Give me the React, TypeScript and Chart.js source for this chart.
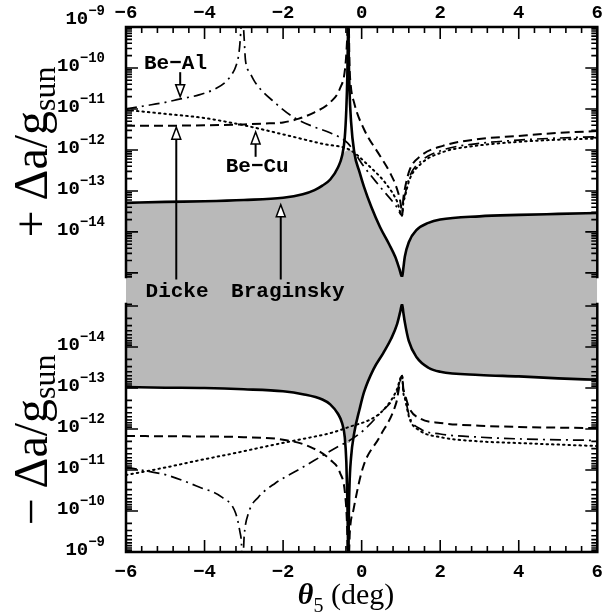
import React, { useEffect, useRef } from 'react';
import { Chart, registerables } from 'chart.js';

Chart.register(...registerables);

// ---------- axis ranges ----------
const thetaMin = -6;
const thetaMax = 6;
const upperAxisMin = 7.94e-16; // bottom edge of the "+" panel
const upperAxisMax = 1e-9;
const lowerAxisMin = 8.91e-16; // top edge of the "-" panel
const lowerAxisMax = 1e-9;
const xTickLabels = [-6, -4, -2, 0, 2, 4, 6];
const upperTickExponents = [-9, -10, -11, -12, -13, -14];
const lowerTickExponents = [-14, -13, -12, -11, -10, -9];

// ---------- "+" panel (+Δa/g_sun) ----------
const braginskyPlusTheta = [-6, -5, -4, -3, -2, -1.5, -1.2, -1, -0.8, -0.6, -0.5, -0.43, -0.39, -0.365, -0.35, -0.345,
  -0.335, -0.33, -0.31, -0.27, -0.19, -0.05, 0.06, 0.25, 0.47, 0.7, 0.86, 0.96, 1.03,
  1.06, 1.1, 1.2, 1.4, 1.7, 2, 3, 4, 5, 6];
const braginskyPlusValue = [5.1e-14, 5.4e-14, 5.6e-14, 6.0e-14, 6.8e-14, 8.3e-14, 1.05e-13, 1.35e-13, 1.9e-13, 3.8e-13, 7.1e-13, 2.0e-12, 1e-11, 6.3e-11, 5.0e-10, 1.6e-9,
  1.6e-9, 3.2e-10, 3.2e-11, 5.0e-12, 8.9e-13, 2.8e-13, 1.26e-13, 4.0e-14, 1.3e-14, 5.0e-15, 2.4e-15, 1.26e-15, 7.9e-16,
  1.26e-15, 2.5e-15, 5.6e-15, 1.12e-14, 1.66e-14, 2.0e-14, 2.4e-14, 2.6e-14, 2.75e-14, 2.9e-14];

const dickePlusTheta = [-6, -5, -4, -3, -2.5, -2, -1.6, -1.2, -0.8, -0.55, -0.42, -0.37, -0.35,
  -0.33, -0.31, -0.28, -0.19, 0.06, 0.47, 0.72, 0.9, 1.0, 1.03,
  1.06, 1.1, 1.22, 1.5, 2.07, 2.9, 4, 5, 6];
const dickePlusValue = [3.9e-12, 3.9e-12, 4.0e-12, 4.2e-12, 4.4e-12, 4.7e-12, 5.8e-12, 8.3e-12, 1.45e-11, 3.2e-11, 1e-10, 5e-10, 1.6e-9,
  1.6e-9, 1.26e-10, 4.0e-11, 1.4e-11, 3.2e-12, 7.1e-13, 2.8e-13, 1.12e-13, 4.5e-14, 2.5e-14,
  6.3e-14, 1.12e-13, 3.2e-13, 7.1e-13, 1.26e-12, 1.8e-12, 2.2e-12, 2.6e-12, 2.9e-12];

const beAlPlusTheta = [-6, -5.5, -5, -4.64, -4.14, -3.7, -3.46, -3.3, -3.21, -3.12, -3.08, -3.06,
  -3.03, -2.99, -2.96, -2.85, -2.7, -2.2, -1.7, -1.2, -0.79, -0.36, 0.06, 0.47, 0.89, 1.03,
  1.06, 1.1, 1.22, 1.5, 2.07, 2.9, 4, 5, 6];
const beAlPlusValue = [1e-11, 1.2e-11, 1.45e-11, 1.74e-11, 2.2e-11, 3.2e-11, 4.6e-11, 7.1e-11, 1.05e-10, 2.5e-10, 7.1e-10, 1.6e-9,
  1.6e-9, 5e-10, 1.6e-10, 7.9e-11, 4.3e-11, 1.4e-11, 6.0e-12, 3.6e-12, 2.6e-12, 1.48e-12, 3.9e-13, 1.26e-13, 4.1e-14, 2.5e-14,
  5.6e-14, 7.9e-14, 2.2e-13, 5.2e-13, 1e-12, 1.41e-12, 1.74e-12, 1.95e-12, 2.1e-12];

const beCuPlusTheta = [-6, -5, -4, -3, -2, -1, -0.3, 0.14, 0.64, 0.9, 1.03,
  1.06, 1.1, 1.22, 1.5, 2.07, 2.9, 4, 5, 6];
const beCuPlusValue = [9.5e-12, 7.6e-12, 6.0e-12, 4.0e-12, 2.4e-12, 1.41e-12, 1e-12, 4.5e-13, 1.41e-13, 5.6e-14, 2.5e-14,
  5.0e-14, 7.1e-14, 1.9e-13, 4.5e-13, 8.9e-13, 1.26e-12, 1.58e-12, 1.78e-12, 1.9e-12];

// ---------- "-" panel (-Δa/g_sun) ----------
const braginskyMinusTheta = [-6, -5, -4, -3, -2, -1.5, -1, -0.8, -0.6, -0.5, -0.43, -0.39, -0.365, -0.35, -0.345,
  -0.335, -0.33, -0.31, -0.27, -0.19, -0.05, 0.06, 0.3, 0.55, 0.75, 0.9, 0.98, 1.03,
  1.06, 1.1, 1.2, 1.4, 1.7, 2, 3, 4, 5, 6];
const braginskyMinusValue = [9.5e-14, 9.8e-14, 1e-13, 1.07e-13, 1.2e-13, 1.41e-13, 1.9e-13, 2.5e-13, 4.3e-13, 7.1e-13, 1.58e-12, 6.3e-12, 5e-11, 4e-10, 1.6e-9,
  1.6e-9, 2.5e-10, 2.5e-11, 5e-12, 1.26e-12, 3.2e-13, 1.26e-13, 3.5e-14, 1.41e-14, 6.3e-15, 2.8e-15, 1.41e-15, 8.9e-16,
  1.41e-15, 2.5e-15, 7.1e-15, 1.78e-14, 3.2e-14, 4.0e-14, 4.8e-14, 5.2e-14, 5.8e-14, 6.3e-14];

const dickeMinusTheta = [-6, -4.5, -3, -2, -1.3, -0.8, -0.55, -0.42, -0.37, -0.35,
  -0.33, -0.3, -0.21, 0.04, 0.46, 0.88, 1.03,
  1.06, 1.1, 1.22, 1.5, 2, 3, 4, 6];
const dickeMinusValue = [1.48e-12, 1.51e-12, 1.58e-12, 1.82e-12, 2.75e-12, 5.6e-12, 1.17e-11, 4e-11, 2.5e-10, 1.6e-9,
  1.6e-9, 3.2e-10, 9.5e-11, 8.3e-12, 1.55e-12, 2.3e-13, 5.0e-14,
  1e-13, 1.41e-13, 3.2e-13, 5.6e-13, 7.1e-13, 8.3e-13, 8.9e-13, 9.5e-13];

const beAlMinusTheta = [-6, -5.5, -4.97, -4.14, -3.56, -3.21, -3.1, -3.06, -3.045,
  -3.025, -2.99, -2.88, -2.63, -2.2, -1.62, -1.2, -0.62, -0.29, 0.06, 0.47, 0.89, 1.03,
  1.06, 1.1, 1.22, 1.5, 2, 3, 4, 6];
const beAlMinusValue = [8.5e-12, 1.05e-11, 1.32e-11, 2.6e-11, 4.6e-11, 1.12e-10, 3.2e-10, 6.3e-10, 1.6e-9,
  1.6e-9, 4e-10, 1.12e-10, 4.6e-11, 2.1e-11, 1e-11, 5.8e-12, 2.75e-12, 1.86e-12, 1.05e-12, 4.1e-13, 1.32e-13, 5.0e-14,
  1.12e-13, 1.58e-13, 5.0e-13, 1e-12, 1.32e-12, 1.58e-12, 1.74e-12, 1.9e-12];

const beCuMinusTheta = [-6, -5, -4.14, -3.3, -2.47, -1.6, -0.8, -0.29, 0.2, 0.47, 0.75, 0.89, 1.03,
  1.06, 1.1, 1.22, 1.5, 2, 3, 4, 6];
const beCuMinusValue = [1.32e-11, 8.7e-12, 5.8e-12, 4e-12, 2.7e-12, 1.82e-12, 1.26e-12, 8.7e-13, 6.0e-13, 4.1e-13, 2.0e-13, 1.12e-13, 5.0e-14,
  1.26e-13, 1.78e-13, 5.6e-13, 1.12e-12, 1.58e-12, 2.0e-12, 2.2e-12, 2.6e-12];

// tip of the shaded (allowed) region at the Braginsky pole
const shadeTipTheta = -0.34;
const upperShadeCap = 1.0e-12;
const lowerShadeCap = 2.2e-12;
// the shaded band between the two panels (Δa ≈ 0)
const gapTheta = [-6, 6];
const gapLevel = [1.15, 1.15];

const SHADE = '#b9b9b9';
const MONO = '"Liberation Mono", "DejaVu Sans Mono", monospace';
const SERIF = '"Liberation Serif", "DejaVu Serif", serif';

const pts = (t: number[], v: number[]) => t.map((x, i) => ({ x, y: v[i] }));
const fmt = (v: number) => (v < 0 ? '\u2212' + Math.abs(v) : String(v));
const shadePts = (t: number[], v: number[], cap: number) => {
  const below = pts(t, v).filter((p) => p.y <= cap);
  below.push({ x: shadeTipTheta, y: cap });
  return below.sort((a, b) => a.x - b.x);
};

function arrow(ctx: CanvasRenderingContext2D, x: number, yTail: number, yTip: number) {
  const dir = yTip < yTail ? 1 : -1; // 1: pointing up
  const headH = 12;
  const headW = 4.5;
  ctx.beginPath();
  ctx.moveTo(x, yTail);
  ctx.lineTo(x, yTip + dir * headH);
  ctx.lineWidth = 2;
  ctx.stroke();
  ctx.beginPath();
  ctx.moveTo(x, yTip);
  ctx.lineTo(x - headW, yTip + dir * headH);
  ctx.lineTo(x + headW, yTip + dir * headH);
  ctx.closePath();
  ctx.fillStyle = '#fff';
  ctx.fill();
  ctx.lineWidth = 1.5;
  ctx.stroke();
}

const decorPlugin = {
  id: 'decor',
  afterDatasetsDraw(chart: any) {
    const { ctx, chartArea } = chart;
    const { left, right } = chartArea;
    const xs = chart.scales.x;
    const yT = chart.scales.yTop;
    const yB = chart.scales.yBot;
    ctx.save();
    ctx.strokeStyle = '#000';
    ctx.lineWidth = 2.5;
    ctx.lineCap = 'square';
    ctx.beginPath();
    ctx.moveTo(left, yT.bottom);
    ctx.lineTo(left, yT.top);
    ctx.lineTo(right, yT.top);
    ctx.lineTo(right, yT.bottom);
    ctx.moveTo(left, yB.top);
    ctx.lineTo(left, yB.bottom);
    ctx.lineTo(right, yB.bottom);
    ctx.lineTo(right, yB.top);
    ctx.stroke();
    ctx.lineCap = 'butt';
    ctx.lineWidth = 1.6;
    ctx.beginPath();
    for (let i = 0; i <= 30; i++) {
      const v = thetaMin + i * 0.4;
      const px = xs.getPixelForValue(v);
      const len = i % 5 === 0 ? 12 : 6;
      ctx.moveTo(px, yT.top);
      ctx.lineTo(px, yT.top + len);
      ctx.moveTo(px, yB.bottom);
      ctx.lineTo(px, yB.bottom - len);
    }
    for (const s of [yT, yB]) {
      for (let e = -16; e <= -9; e++) {
        for (let m = 1; m <= 9; m++) {
          const v = m * Math.pow(10, e);
          if (v < s.min * 0.999 || v > s.max * 1.001) continue;
          const py = s.getPixelForValue(v);
          const len = m === 1 ? 12 : 6;
          ctx.moveTo(left, py);
          ctx.lineTo(left + len, py);
          ctx.moveTo(right, py);
          ctx.lineTo(right - len, py);
        }
      }
    }
    ctx.stroke();
    ctx.restore();
  },
  afterDraw(chart: any) {
    const { ctx } = chart;
    const xs = chart.scales.x;
    const yT = chart.scales.yTop;
    const yB = chart.scales.yBot;
    const yG = chart.scales.yGap;
    ctx.save();
    ctx.fillStyle = '#000';
    ctx.strokeStyle = '#000';
    const drawPow = (exp: number, cy: number) => {
      const base = '10';
      const sup = '\u2212' + Math.abs(exp);
      ctx.font = `bold 19px ${MONO}`;
      const wb = ctx.measureText(base).width;
      ctx.font = `bold 14px ${MONO}`;
      const ws = ctx.measureText(sup).width;
      const rightX = 105;
      const x0 = rightX - wb - ws;
      ctx.textAlign = 'left';
      ctx.textBaseline = 'alphabetic';
      ctx.font = `bold 19px ${MONO}`;
      ctx.fillText(base, x0, cy + 6);
      ctx.font = `bold 14px ${MONO}`;
      ctx.fillText(sup, x0 + wb, cy - 3);
    };
    for (const e of upperTickExponents) {
      const py = yT.getPixelForValue(Math.pow(10, e));
      drawPow(e, e === -9 ? py - 9 : py - 3);
    }
    for (const e of lowerTickExponents) {
      const py = yB.getPixelForValue(Math.pow(10, e));
      drawPow(e, py - 3);
    }
    const drawYTitle = (sign: string, cx: number, cy: number) => {
      ctx.save();
      ctx.translate(cx, cy);
      ctx.rotate(-Math.PI / 2);
      ctx.textBaseline = 'alphabetic';
      ctx.textAlign = 'left';
      const main = '\u0394a/g';
      ctx.font = `48px ${SERIF}`;
      const w0 = ctx.measureText(sign).width + 10;
      const w1 = ctx.measureText(main).width;
      ctx.font = `32px ${SERIF}`;
      const w2 = ctx.measureText('sun').width;
      const start = -(w0 + w1 + w2) / 2;
      ctx.font = `48px ${SERIF}`;
      ctx.fillText(sign, start, 10);
      ctx.fillText(main, start + w0, 10);
      ctx.font = `32px ${SERIF}`;
      ctx.fillText('sun', start + w0 + w1, 18);
      ctx.restore();
    };
    drawYTitle('+', 37, 152);
    drawYTitle('\u2212', 37, 440);
    ctx.textBaseline = 'alphabetic';
    ctx.textAlign = 'left';
    ctx.font = `italic bold 30px ${SERIF}`;
    const wTh = ctx.measureText('\u03b8').width;
    ctx.font = `20px ${SERIF}`;
    const w5 = ctx.measureText('5').width;
    ctx.font = `30px ${SERIF}`;
    const wDeg = ctx.measureText(' (deg)').width;
    let tx = 346 - (wTh + w5 + wDeg) / 2;
    ctx.font = `italic bold 30px ${SERIF}`;
    ctx.fillText('\u03b8', tx, 604);
    tx += wTh;
    ctx.font = `20px ${SERIF}`;
    ctx.fillText('5', tx, 612);
    tx += w5;
    ctx.font = `30px ${SERIF}`;
    ctx.fillText(' (deg)', tx, 604);

    ctx.font = `bold 21px ${MONO}`;
    ctx.textAlign = 'center';
    ctx.textBaseline = 'middle';
    const gapMid = yG.getPixelForValue(0.5);
    ctx.fillStyle = '#000';
    ctx.fillText('Be\u2212Al', xs.getPixelForValue(-4.74), yT.getPixelForValue(1.3e-10));
    ctx.fillText('Be\u2212Cu', xs.getPixelForValue(-2.66), yT.getPixelForValue(3.9e-13));
    ctx.fillText('Dicke', xs.getPixelForValue(-4.7), gapMid + 1);
    ctx.fillText('Braginsky', xs.getPixelForValue(-1.88), gapMid + 1);
    ctx.strokeStyle = '#000';
    arrow(ctx, xs.getPixelForValue(-4.62), yT.getPixelForValue(7.9e-11), yT.getPixelForValue(2.0e-11));
    arrow(ctx, xs.getPixelForValue(-2.7), yT.getPixelForValue(6.8e-13), yT.getPixelForValue(2.75e-12));
    arrow(ctx, xs.getPixelForValue(-4.72), gapMid - 11, yT.getPixelForValue(3.6e-12));
    arrow(ctx, xs.getPixelForValue(-2.06), gapMid - 11, yT.getPixelForValue(4.6e-14));
    ctx.restore();
  },
};

export default function App() {
  const ref = useRef<HTMLCanvasElement | null>(null);
  useEffect(() => {
    const canvas = ref.current;
    if (!canvas) return;
    const line = (data: any, yAxisID: string, style: string) => {
      const base: any = {
        data,
        yAxisID,
        xAxisID: 'x',
        order: 1,
        borderColor: '#000',
        backgroundColor: 'transparent',
        fill: false,
        pointRadius: 0,
        cubicInterpolationMode: 'monotone',
      };
      if (style === 'solid') { base.borderWidth = 2.6; }
      if (style === 'dashed') { base.borderWidth = 2; base.borderDash = [9, 5]; }
      if (style === 'dashdot') { base.borderWidth = 1.7; base.borderDash = [11, 5, 2, 5]; }
      if (style === 'dotted') { base.borderWidth = 2; base.borderDash = [1.5, 4]; base.borderCapStyle = 'round'; }
      return base;
    };
    const shade = (data: any, yAxisID: string, fill: any) => ({
      data, yAxisID, xAxisID: 'x', order: 5, borderWidth: 0, pointRadius: 0,
      backgroundColor: SHADE, borderColor: SHADE, fill, cubicInterpolationMode: 'monotone',
    } as any);
    const chart = new Chart(canvas, {
      type: 'line',
      data: {
        datasets: [
          shade(pts(gapTheta, gapLevel), 'yGap', { value: -0.15 }),
          shade(shadePts(braginskyPlusTheta, braginskyPlusValue, upperShadeCap), 'yTop', 'start'),
          shade(shadePts(braginskyMinusTheta, braginskyMinusValue, lowerShadeCap), 'yBot', 'end'),
          line(pts(braginskyPlusTheta, braginskyPlusValue), 'yTop', 'solid'),
          line(pts(dickePlusTheta, dickePlusValue), 'yTop', 'dashed'),
          line(pts(beAlPlusTheta, beAlPlusValue), 'yTop', 'dashdot'),
          line(pts(beCuPlusTheta, beCuPlusValue), 'yTop', 'dotted'),
          line(pts(braginskyMinusTheta, braginskyMinusValue), 'yBot', 'solid'),
          line(pts(dickeMinusTheta, dickeMinusValue), 'yBot', 'dashed'),
          line(pts(beAlMinusTheta, beAlMinusValue), 'yBot', 'dashdot'),
          line(pts(beCuMinusTheta, beCuMinusValue), 'yBot', 'dotted'),
        ],
      },
      options: {
        responsive: false,
        animation: false,
        events: [],
        layout: { padding: { left: 126, right: 8, top: 0, bottom: 0 } },
        plugins: { legend: { display: false }, tooltip: { enabled: false } },
        scales: {
          x: {
            type: 'linear', position: 'bottom', min: thetaMin, max: thetaMax,
            afterFit: (s: any) => { s.height = 64; },
            afterBuildTicks: (s: any) => { s.ticks = xTickLabels.map((v) => ({ value: v })); },
            grid: { display: false, drawTicks: false },
            border: { display: false },
            ticks: { padding: 9, color: '#000', font: { family: MONO, weight: 'bold', size: 19 }, callback: (v: any) => fmt(Number(v)), maxRotation: 0 },
          },
          xTop: {
            type: 'linear', position: 'top', min: thetaMin, max: thetaMax,
            afterFit: (s: any) => { s.height = 27; },
            afterBuildTicks: (s: any) => { s.ticks = xTickLabels.map((v) => ({ value: v })); },
            grid: { display: false, drawTicks: false },
            border: { display: false },
            ticks: { padding: 2, color: '#000', font: { family: MONO, weight: 'bold', size: 19 }, callback: (v: any) => fmt(Number(v)), maxRotation: 0 },
          },
          yTop: { type: 'logarithmic', display: false, position: 'left', stack: 'v', stackWeight: 250, weight: 3, min: upperAxisMin, max: upperAxisMax },
          yGap: { type: 'linear', display: false, position: 'left', stack: 'v', stackWeight: 27, weight: 2, min: 0, max: 1 },
          yBot: { type: 'logarithmic', display: false, position: 'left', stack: 'v', stackWeight: 248, weight: 1, min: lowerAxisMin, max: lowerAxisMax, reverse: true },
        } as any,
      },
      plugins: [decorPlugin],
    });
    return () => chart.destroy();
  }, []);
  return (
    <div style={{ position: 'absolute', left: 0, top: 0, width: 612, height: 616, background: '#fff' }}>
      <canvas ref={ref} width={612} height={616} style={{ display: 'block' }} />
    </div>
  );
}
